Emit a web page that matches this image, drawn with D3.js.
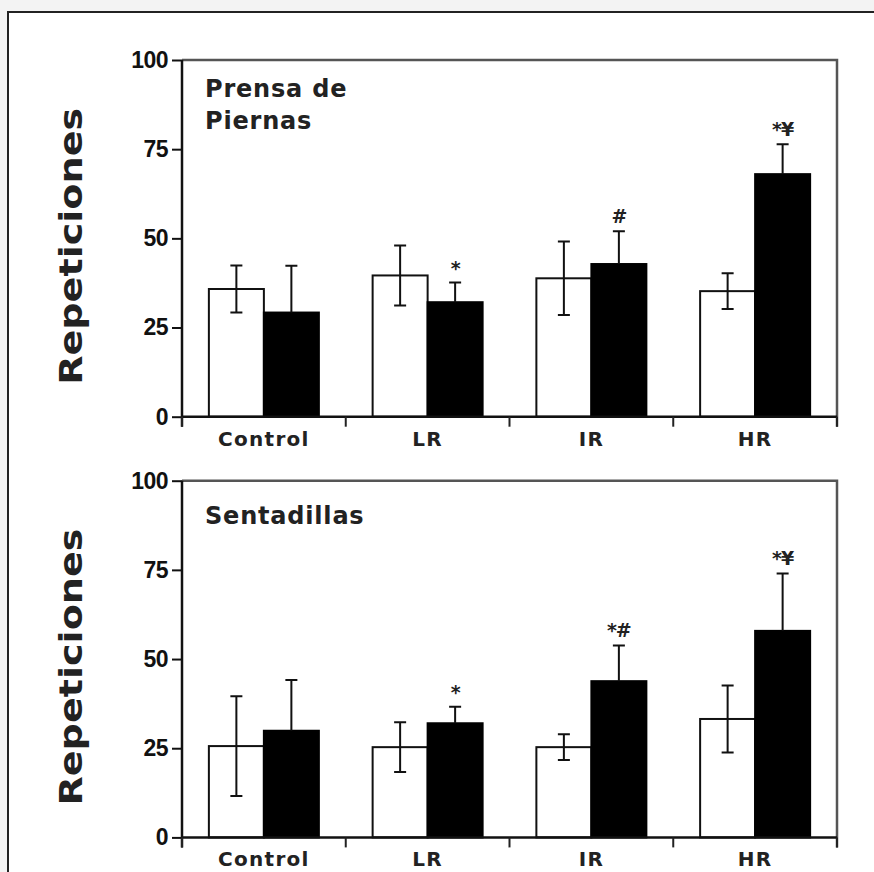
<!DOCTYPE html>
<html>
<head>
  <meta charset="utf-8">
  <title>Repeticiones</title>
  <script src="https://d3js.org/d3.v7.min.js"></script>
  <style>
    html, body { margin: 0; padding: 0; background: #f3f3f3; }
    svg { display: block; }
  </style>
</head>
<body>
  <svg id="grafico"></svg>

  <script>
    // datos
    const grupos = ["Control", "LR", "IR", "HR"];
    const ticksY = [0, 25, 50, 75, 100];

    const prensaPre = [35.8, 39.6, 38.8, 35.2];
    const prensaPreSd = [6.6, 8.4, 10.3, 5.0];
    const prensaPost = [29.2, 32.1, 42.8, 68.0];
    const prensaPostSd = [13.1, 5.5, 9.2, 8.4];
    const prensaMarcas = ["", "*", "#", "*¥"];

    const sentPre = [25.6, 25.3, 25.3, 33.2];
    const sentPreSd = [14.0, 7.0, 3.6, 9.4];
    const sentPost = [29.9, 32.0, 43.8, 57.9];
    const sentPostSd = [14.2, 4.6, 10.0, 16.1];
    const sentMarcas = ["", "*", "*#", "*¥"];

    const paneles = [
      { titulo: ["Prensa de", "Piernas"], pre: prensaPre, preSd: prensaPreSd, post: prensaPost, postSd: prensaPostSd, marcas: prensaMarcas, top: 60 },
      { titulo: ["Sentadillas"], pre: sentPre, preSd: sentPreSd, post: sentPost, postSd: sentPostSd, marcas: sentMarcas, top: 480.7 }
    ];

    const W = 874, H = 872;
    const izq = 182, der = 837, alto = 356.7;

    const svg = d3.select("#grafico")
      .attr("width", W)
      .attr("height", H);

    // marco exterior
    svg.append("rect")
      .attr("x", 8).attr("y", 12)
      .attr("width", W).attr("height", H)
      .attr("fill", "#fff")
      .attr("stroke", "#222")
      .attr("stroke-width", 2);

    const x0 = d3.scaleBand().domain(grupos).range([izq, der]);
    const anchoBarra = 55;
    const x1 = d3.scaleBand().domain(["pre", "post"])
      .range([x0.bandwidth() / 2 - anchoBarra, x0.bandwidth() / 2 + anchoBarra]);

    paneles.forEach(p => {
      const y = d3.scaleLinear().domain([0, 100]).range([p.top + alto, p.top]);
      const g = svg.append("g");

      // marco del grafico (arriba y derecha en gris)
      g.append("path")
        .attr("d", `M${izq},${p.top}H${der}V${p.top + alto + 10}`)
        .attr("fill", "none")
        .attr("stroke", "#555")
        .attr("stroke-width", 2.5);

      const filas = grupos.map((c, i) => ({
        c, pre: p.pre[i], preSd: p.preSd[i], post: p.post[i], postSd: p.postSd[i], marca: p.marcas[i]
      }));

      // barras blancas (pre)
      g.selectAll(".pre").data(filas).enter().append("rect")
        .attr("x", d => x0(d.c) + x1("pre"))
        .attr("y", d => y(d.pre))
        .attr("width", x1.bandwidth())
        .attr("height", d => y(0) - y(d.pre))
        .attr("fill", "#fff")
        .attr("stroke", "#111")
        .attr("stroke-width", 2);

      // barras negras (post)
      g.selectAll(".post").data(filas).enter().append("rect")
        .attr("x", d => x0(d.c) + x1("post"))
        .attr("y", d => y(d.post))
        .attr("width", x1.bandwidth())
        .attr("height", d => y(0) - y(d.post))
        .attr("fill", "#000")
        .attr("stroke", "#000")
        .attr("stroke-width", 2);

      // barras de error
      const cap = 6;
      filas.forEach(d => {
        const cx = x0(d.c) + x1("pre") + x1.bandwidth() / 2;
        const a = y(d.pre + d.preSd), b = y(d.pre - d.preSd);
        g.append("path")
          .attr("d", `M${cx},${a}V${b}M${cx - cap},${a}H${cx + cap}M${cx - cap},${b}H${cx + cap}`)
          .attr("fill", "none").attr("stroke", "#111").attr("stroke-width", 2);

        const cx2 = x0(d.c) + x1("post") + x1.bandwidth() / 2;
        const t = y(d.post + d.postSd);
        g.append("path")
          .attr("d", `M${cx2},${t}V${y(d.post)}M${cx2 - cap},${t}H${cx2 + cap}`)
          .attr("fill", "none").attr("stroke", "#111").attr("stroke-width", 2);

        if (d.marca) {
          g.append("text")
            .attr("x", cx2)
            .attr("y", t - 8)
            .attr("text-anchor", "middle")
            .style("font-family", "'DejaVu Sans', sans-serif")
            .style("font-weight", "bold")
            .style("font-size", "19px")
            .style("letter-spacing", "-1px")
            .style("fill", "#222")
            .text(d.marca);
        }
      });

      // eje y
      const ejeY = d3.axisLeft(y).tickValues(ticksY).tickSize(10).tickPadding(4);
      const gy = g.append("g").attr("transform", `translate(${izq},0)`).call(ejeY);
      gy.select(".domain").attr("d", `M0,${p.top}V${p.top + alto + 10}`)
        .attr("stroke", "#111").attr("stroke-width", 2.5);
      gy.selectAll(".tick line").attr("stroke", "#111").attr("stroke-width", 2);
      gy.selectAll(".tick text")
        .style("font-family", "'Liberation Sans', Arial, sans-serif")
        .style("font-weight", "bold")
        .style("font-size", "23px")
        .style("letter-spacing", "-0.5px")
        .style("fill", "#111");

      // eje x: marcas en los limites de cada grupo
      const limites = grupos.map(c => x0(c)).concat([der]);
      g.append("path")
        .attr("d", `M${izq},${y(0)}H${der}`)
        .attr("stroke", "#111").attr("stroke-width", 2.5);
      g.selectAll(".tx").data(limites).enter().append("line")
        .attr("x1", d => d).attr("x2", d => d)
        .attr("y1", y(0)).attr("y2", y(0) + 10)
        .attr("stroke", "#222").attr("stroke-width", 2);

      g.selectAll(".cat").data(grupos).enter().append("text")
        .attr("x", d => x0(d) + x0.bandwidth() / 2)
        .attr("y", y(0) + 29)
        .attr("text-anchor", "middle")
        .style("font-family", "'DejaVu Sans', sans-serif")
        .style("font-weight", "bold")
        .style("font-size", "20px")
        .style("letter-spacing", "1.3px")
        .style("fill", "#222")
        .text(d => d);

      // titulo del panel
      p.titulo.forEach((t, i) => {
        g.append("text")
          .attr("x", 205)
          .attr("y", p.top + (p.titulo.length > 1 ? 37 : 43) + i * 32)
          .style("font-family", "'DejaVu Sans', sans-serif")
          .style("font-weight", "bold")
          .style("font-size", "24px")
          .style("letter-spacing", "0.8px")
          .style("fill", "#222")
          .text(t);
      });

      // etiqueta del eje y
      g.append("text")
        .attr("transform", `translate(82,${p.top + alto / 2 + 8}) rotate(-90)`)
        .attr("text-anchor", "middle")
        .attr("textLength", 277)
        .attr("lengthAdjust", "spacingAndGlyphs")
        .style("font-family", "'DejaVu Sans', sans-serif")
        .style("font-weight", "bold")
        .style("font-size", "32px")
        .style("fill", "#222")
        .text("Repeticiones");
    });
  </script>
</body>
</html>
